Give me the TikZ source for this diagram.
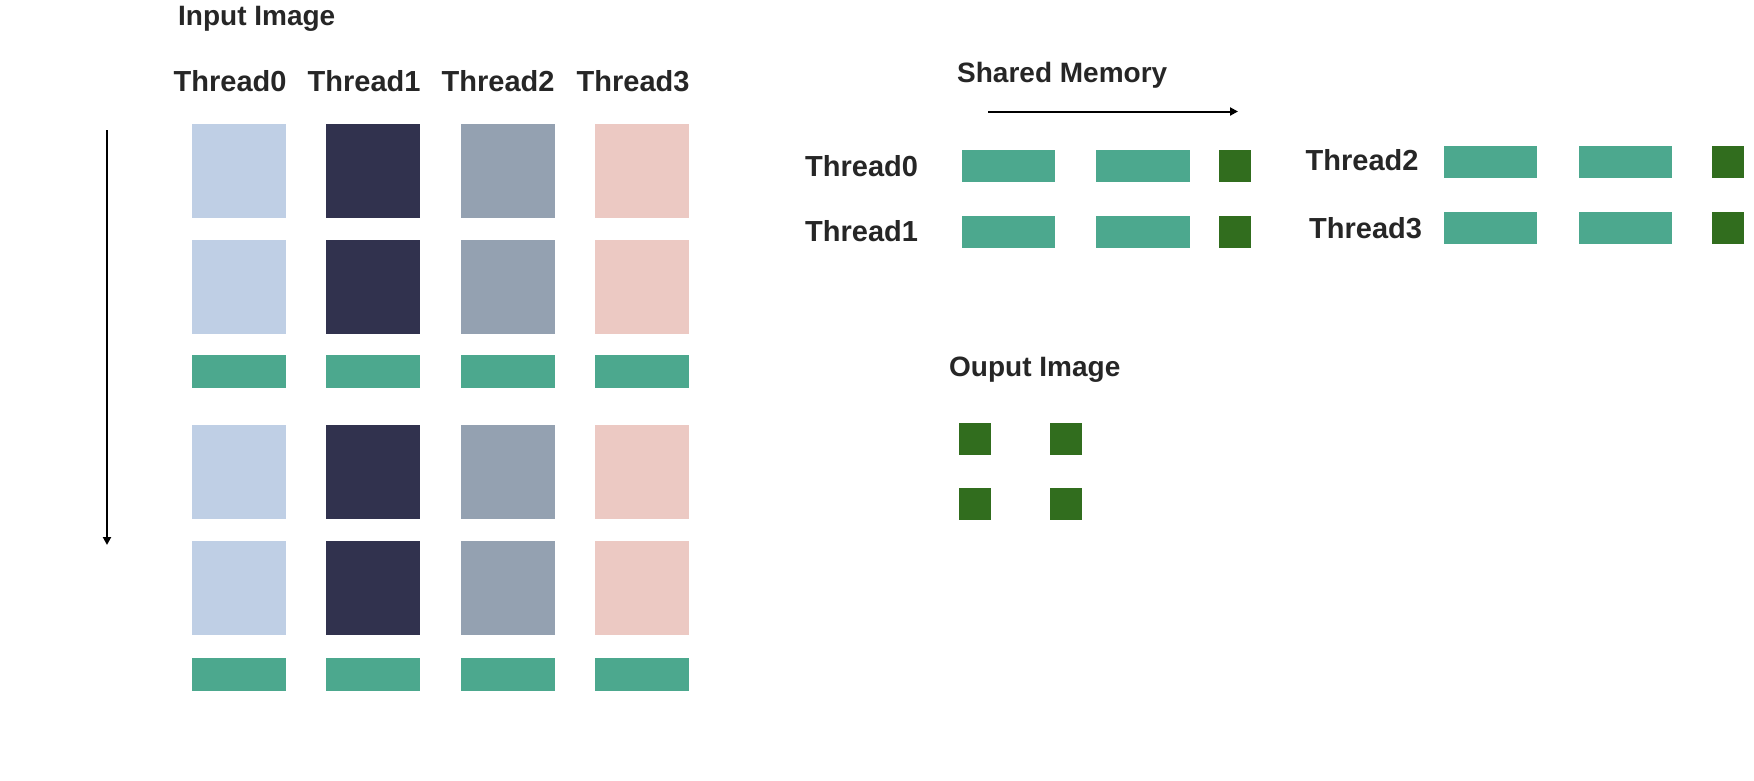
\documentclass[tikz,border=0pt]{standalone}
\usepackage{fontspec}
\setmainfont{Liberation Sans}
\usetikzlibrary{arrows.meta}
\definecolor{txt}{HTML}{262626}
\definecolor{cA}{HTML}{BFCFE5}
\definecolor{cB}{HTML}{31324E}
\definecolor{cC}{HTML}{94A1B1}
\definecolor{cD}{HTML}{ECC9C3}
\definecolor{teal}{HTML}{4CA88E}
\definecolor{dgreen}{HTML}{316D1E}
\tikzset{
  blk/.style={inner sep=0pt, outer sep=0pt, anchor=north west},
  lbl/.style={inner sep=0pt, anchor=base west, text=txt, font=\fontsize{28}{32}\selectfont\bfseries},
  thl/.style={lbl, font=\fontsize{29}{33}\selectfont\bfseries},
  arr/.style={line width=2pt, -{Triangle[length=8pt,width=8pt]}}
}
\begin{document}
\begin{tikzpicture}[x=1pt,y=-1pt]
\useasboundingbox (0,0) rectangle (1754,780);
% titles
\node[lbl] (tin) at (178,25) {Input Image};
\node[lbl] (tsh) at (957,82) {Shared Memory};
\node[lbl] (tout) at (949,376.5) {Ouput Image};
% input image column labels
\node[thl] (h0) at (173.5,91.5) {Thread0};
\node[thl] (h1) at (307.5,91.5) {Thread1};
\node[thl] (h2) at (441.5,91.5) {Thread2};
\node[thl] (h3) at (576.5,91.5) {Thread3};
% input grid
\foreach \c/\x/\col in {0/192/cA,1/326/cB,2/461/cC,3/595/cD}{
  \foreach \r/\y in {0/124,1/240,2/425,3/541}{
    \node[blk, fill=\col, minimum width=93.5pt, minimum height=93.5pt] (sq\c\r) at (\x,\y) {};
  }
  \node[blk, fill=teal, minimum width=93.5pt, minimum height=32.5pt] (ga\c) at (\x,355) {};
  \node[blk, fill=teal, minimum width=93.5pt, minimum height=32.5pt] (gb\c) at (\x,658) {};
}
% vertical arrow
\coordinate (va) at (107,130);
\coordinate (vb) at (107,545);
\draw[arr] (va) -- (vb);
% horizontal arrow
\coordinate (ha) at (988,111.5);
\coordinate (hb) at (1238,111.5);
\draw[arr] (ha) -- (hb);
% shared memory rows
\node[thl] (s0) at (805,176) {Thread0};
\node[thl] (s1) at (805,241.5) {Thread1};
\node[thl] (s2) at (1305.5,170.5) {Thread2};
\node[thl] (s3) at (1309,238) {Thread3};
\foreach \n/\y in {0/150,1/216}{
  \node[blk, fill=teal, minimum width=93pt, minimum height=31.5pt] (m\n a) at (962,\y) {};
  \node[blk, fill=teal, minimum width=94pt, minimum height=31.5pt] (m\n b) at (1096,\y) {};
  \node[blk, fill=dgreen, minimum width=32pt, minimum height=31.5pt] (m\n c) at (1219,\y) {};
}
\foreach \n/\y in {2/146,3/212}{
  \node[blk, fill=teal, minimum width=93pt, minimum height=31.5pt] (m\n a) at (1444,\y) {};
  \node[blk, fill=teal, minimum width=93pt, minimum height=31.5pt] (m\n b) at (1579,\y) {};
  \node[blk, fill=dgreen, minimum width=32pt, minimum height=31.5pt] (m\n c) at (1712,\y) {};
}
% output image
\foreach \i/\x in {0/959,1/1050}{
  \foreach \j/\y in {0/423,1/488}{
    \node[blk, fill=dgreen, minimum width=32pt, minimum height=32pt] (o\i\j) at (\x,\y) {};
  }
}
\end{tikzpicture}
\end{document}
